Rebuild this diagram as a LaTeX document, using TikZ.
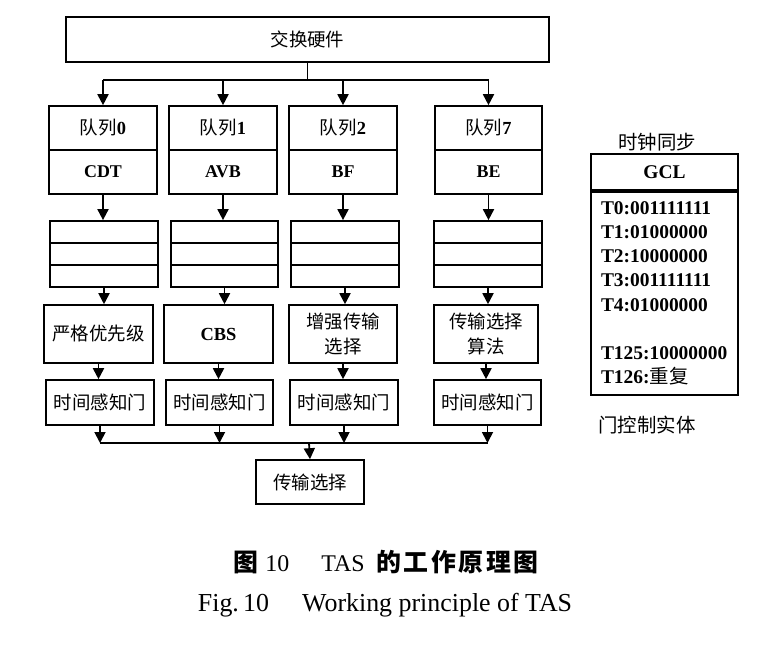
\documentclass[tikz,border=0pt]{standalone}
\usepackage{fontspec}
\setmainfont{Liberation Serif}
\newfontfamily\cjk{Noto Sans CJK SC}
\usetikzlibrary{arrows.meta}
\newcommand\latb[1]{{\rmfamily\bfseries #1}}
\begin{document}
\begin{tikzpicture}[x=1bp,y=-1bp,
  bx/.style={draw, line width=1.8bp, inner sep=0pt, align=center},
  arr/.style={line width=1.8bp, -{Triangle[length=11bp,width=11bp]}},
  ln/.style={line width=1.8bp},
  zh/.style={font=\cjk\fontsize{18.5}{26}\selectfont},
  zhr/.style={font=\cjk\fontsize{19.5}{24}\selectfont},
  en/.style={font=\bfseries\fontsize{18}{22}\selectfont},
  gclf/.style={font=\bfseries\fontsize{19.5}{24.3}\selectfont},
]
\useasboundingbox (0,0) rectangle (757,648);

\node[bx, zh, minimum width=485, minimum height=45] (hw) at (307.5,39.5) {交换硬件};

\foreach \i/\xq/\xb/\xa/\xg/\wa/\lab/\alg in {
  0/103/104/98.5/100/109/CDT/{严格优先级},
  1/223/224.5/218.5/219.5/109/AVB/{\latb{CBS}},
  2/343/345/343/344/108/BF/{增强传输\\选择},
  7/488.5/488/486/487.5/104/BE/{传输选择\\算法}}{
  \node[bx, zh, minimum width=108, minimum height=44] (qa\i) at (\xq,128) {队列\latb{\i}};
  \node[bx, en, minimum width=108, minimum height=44] (qb\i) at (\xq,172) {\lab};
  \node[bx, minimum width=108, minimum height=22] (ba\i) at (\xb,232) {};
  \node[bx, minimum width=108, minimum height=22] (bb\i) at (\xb,254) {};
  \node[bx, minimum width=108, minimum height=22] (bc\i) at (\xb,276) {};
  \node[bx, zh, minimum width=\wa, minimum height=58] (al\i) at (\xa,334) {\alg};
  \node[bx, zh, minimum width=108, minimum height=45] (gt\i) at (\xg,402.5) {时间感知门};
}

\node[bx, zh, minimum width=108, minimum height=44] (ts) at (310,482) {传输选择};

% top distribution
\draw[ln] (hw.south) -- ++(0,17) coordinate (hb);
\draw[ln] (qa0.north |- hb) -- (qa7.north |- hb);
\coordinate (jn) at (309,443);
\foreach \i in {0,1,2,7}{
  \draw[arr] (qa\i.north |- hb) -- (qa\i.north);
  \draw[arr] (qb\i.south) -- (qb\i.south |- ba\i.north);
  \draw[arr] (bc\i.south) -- (bc\i.south |- al\i.north);
  \draw[arr] (al\i.south) -- (al\i.south |- gt\i.north);
  \draw[arr] (gt\i.south) -- (gt\i.south |- jn);
}
\draw[ln] (gt0.south |- jn) -- (gt7.south |- jn);
\draw[arr] (jn) -- (ts.north);

% GCL
\node[zhr] (clk) at (657,142) {时钟同步};
\node[bx, gclf, minimum width=147, minimum height=36] (gcl) at (664.5,172) {GCL};
\node[bx, gclf, text width=127bp, inner xsep=10bp, minimum height=204, align=left, anchor=north] (tab) at (gcl.south)
  {T0:001111111\\T1:01000000\\T2:10000000\\T3:001111111\\T4:01000000\\[24.3bp]T125:10000000\\T126:{\cjk\mdseries 重复}};
\node[zhr] (gce) at (647,425) {门控制实体};

% caption
\node[font=\fontsize{24}{28}\selectfont] (cap1) at (386,562)
  {{\cjk\bfseries\fontsize{25}{28}\selectfont 图}\hspace{7bp}10\hspace{32bp}TAS\hspace{12bp}{\cjk\bfseries\fontsize{25}{28}\selectfont 的\kern2.5bp 工\kern2.5bp 作\kern2.5bp 原\kern2.5bp 理\kern2.5bp 图}};
\node[font=\fontsize{26}{30}\selectfont] (cap2) at (385,605) {Fig.\,10\hspace{33bp}Working principle of TAS};
\end{tikzpicture}
\end{document}
